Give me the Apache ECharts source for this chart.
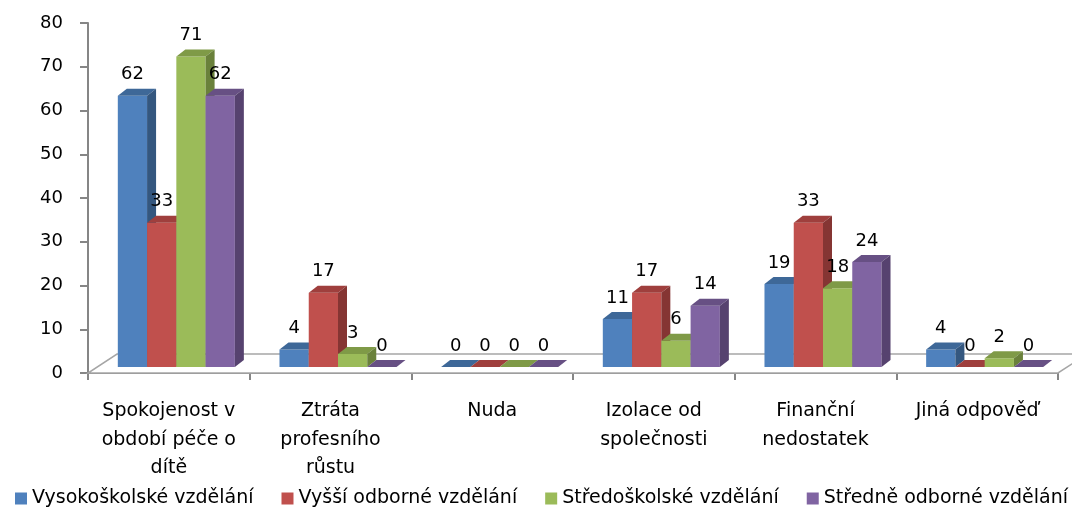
<!DOCTYPE html>
<html>
<head>
<meta charset="utf-8">
<script src="https://cdn.jsdelivr.net/npm/echarts@6/dist/echarts.min.js"></script>
<style>
  html, body { margin: 0; padding: 0; background: #fff; }
  #chart { width: 1072px; height: 509px; }
</style>
</head>
<body>
<div id="chart"></div>
<script>
var categories = ['Spokojenost v\nobdobí péče o\ndítě', 'Ztráta\nprofesního\nrůstu', 'Nuda', 'Izolace od\nspolečnosti', 'Finanční\nnedostatek', 'Jiná odpověď'];
var seriesNames = ['Vysokoškolské vzdělání', 'Vyšší odborné vzdělání', 'Středoškolské vzdělání', 'Středně odborné vzdělání'];
var vysokoskolske = [62, 4, 0, 11, 19, 4];
var vyssiOdborne = [33, 17, 0, 17, 33, 0];
var stredoskolske = [71, 3, 0, 6, 18, 2];
var stredneOdborne = [62, 0, 0, 14, 24, 0];

// barvy: čelo, vršek, bok
var colors = [
  ['#4F81BD', '#3E6898', '#34577F'],
  ['#C0504D', '#9F3F3D', '#853533'],
  ['#9BBB59', '#7F9A47', '#6A813B'],
  ['#8064A2', '#675084', '#56426F']
];

var FONT = 'DejaVu Sans';
var BAR_RATIO = 0.181;   // šířka sloupce / šířka kategorie
var SHIFT_X = 7.5, SHIFT_Y = -6;   // posun sloupců do hloubky
var DX = 9, DY = -7;               // hloubka sloupce
var FLOOR_DX = 29, FLOOR_DY = -19; // hloubka podlahy

function renderBar(params, api) {
  var si = params.seriesIndex - 1;
  var ci = api.value(0), v = api.value(1);
  var base = api.coord([ci, 0]);
  var top = api.coord([ci, v]);
  var cw = api.size([1, 0])[0];
  var bw = cw * BAR_RATIO;
  var x0 = base[0] + SHIFT_X + (si - 2) * bw;
  var y0 = base[1] + SHIFT_Y;
  var y1 = top[1] + SHIFT_Y;
  var c = colors[si];
  return {
    type: 'group',
    children: [
      {
        type: 'rect',
        shape: { x: x0, y: y1, width: bw, height: y0 - y1 },
        style: { fill: c[0] }
      },
      {
        type: 'polygon',
        shape: { points: [[x0, y1], [x0 + bw, y1], [x0 + bw + DX, y1 + DY], [x0 + DX, y1 + DY]] },
        style: { fill: c[1] }
      },
      {
        type: 'polygon',
        shape: { points: [[x0 + bw, y1], [x0 + bw + DX, y1 + DY], [x0 + bw + DX, y0 + DY], [x0 + bw, y0]] },
        style: { fill: c[2] }
      },
      {
        type: 'text',
        style: {
          x: x0 + bw / 2,
          y: y1 + DY - 5,
          text: String(v),
          fill: '#000',
          font: '18px "' + FONT + '"',
          align: 'center',
          verticalAlign: 'bottom'
        }
      }
    ]
  };
}

function renderFloor(params, api) {
  var cw = api.size([1, 0])[0];
  var a = api.coord([0, 0]);
  var b = api.coord([categories.length - 1, 0]);
  var l = a[0] - cw / 2, r = b[0] + cw / 2, y = a[1];
  return {
    type: 'polygon',
    shape: { points: [[l, y], [r, y], [r + FLOOR_DX, y + FLOOR_DY], [l + FLOOR_DX, y + FLOOR_DY]] },
    style: { fill: '#fff', stroke: '#A6A6A6', lineWidth: 1.5 }
  };
}

function toData(arr) {
  return arr.map(function (v, i) { return [i, v]; });
}

var chart = echarts.init(document.getElementById('chart'));
var allData = [vysokoskolske, vyssiOdborne, stredoskolske, stredneOdborne];

var series = [{
  type: 'custom',
  renderItem: renderFloor,
  data: [[0, 0]],
  silent: true
}];
allData.forEach(function (arr, i) {
  series.push({
    name: seriesNames[i],
    type: 'custom',
    renderItem: renderBar,
    itemStyle: { color: colors[i][0] },
    encode: { x: 0, y: 1 },
    data: toData(arr)
  });
});

chart.setOption({
  animation: false,
  textStyle: { fontFamily: FONT },
  grid: { left: 88, right: 14, top: 23, bottom: 136 },
  legend: {
    data: seriesNames,
    left: 10,
    top: 484,
    width: 1300,
    icon: 'rect',
    itemWidth: 12,
    itemHeight: 12,
    itemGap: 28,
    textStyle: { fontFamily: FONT, fontSize: 19, color: '#000' }
  },
  xAxis: {
    type: 'category',
    data: categories,
    axisLine: { lineStyle: { color: '#868686', width: 2 } },
    axisTick: { show: true, length: 7, lineStyle: { color: '#868686', width: 2 } },
    axisLabel: { fontFamily: FONT, fontSize: 19, color: '#000', margin: 24, lineHeight: 28.5, interval: 0 },
    splitLine: { show: false }
  },
  yAxis: {
    type: 'value',
    min: 0,
    max: 80,
    interval: 10,
    axisLine: { show: true, lineStyle: { color: '#868686', width: 2 } },
    axisTick: { show: true, length: 8, lineStyle: { color: '#868686', width: 2 } },
    axisLabel: { fontFamily: FONT, fontSize: 18, color: '#000', margin: 25 },
    splitLine: { show: false }
  },
  series: series
});
</script>
</body>
</html>
